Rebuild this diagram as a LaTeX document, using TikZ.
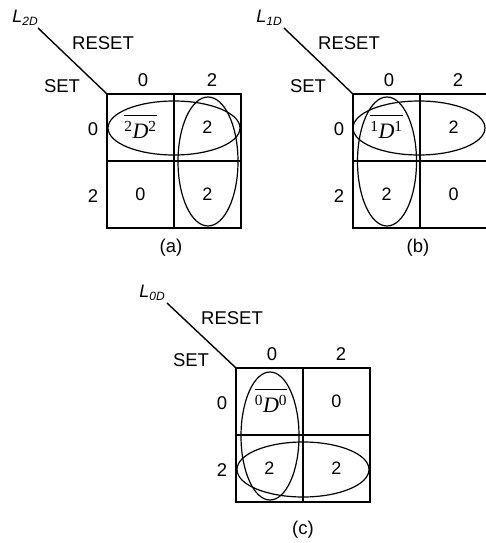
\documentclass[tikz,border=0pt]{standalone}
\usepackage{fontspec}
\setmainfont{Liberation Sans}
\newfontfamily\dserif{Liberation Serif}
\begin{document}
\begin{tikzpicture}[x=1pt,y=-1pt,
  txt/.style={font=\fontsize{18.5}{21}\selectfont, inner sep=0pt},
  cell/.style={draw, line width=1.6pt, minimum size=67pt, inner sep=0pt,
               font=\fontsize{18}{21}\selectfont},
  loop/.style={line width=1.2pt},
  diag/.style={line width=1.4pt},
  dterm/.style={inner sep=0pt, font=\fontsize{22}{24}\dserif},
  ovl/.style={line width=1pt},
  lname/.style={inner sep=0pt, font=\fontsize{18}{20}\selectfont\itshape}]
\useasboundingbox (0,0) rectangle (486,543);

% ---------- map (a): L_2D ----------
\begin{scope}[shift={(107,94)}]
  \coordinate (a-corner) at (0,0);
  \node[cell] (a11) at (33.5,33.5) {};
  \node[cell] (a12) at (100.5,33.5) {2};
  \node[cell] (a21) at (33.5,100.5) {0};
  \node[cell] (a22) at (100.5,100.5) {2};
  \node[dterm] (a11t) at (33.5,36) {\textsuperscript{2}\textit{D}\textsuperscript{2}};
  \draw[ovl] ([yshift=5pt]a11t.north west) -- ([yshift=5pt]a11t.north east);
  \node[lname] (a-name) at (-82,-76) {L\raisebox{-0.35ex}{\fontsize{12}{12}\selectfont 2D}};
  \coordinate (a-start) at (-69,-66);
  \draw[diag] (a-start) -- (a-corner);
  \node[txt] (a-reset) at (-4,-51) {RESET};
  \node[txt] (a-set) at (-45,-8) {SET};
  \node[txt] (a-c1) at (36,-14) {0};
  \node[txt] (a-c2) at (105,-14) {2};
  \node[txt] (a-r1) at (-14,35) {0};
  \node[txt] (a-r2) at (-14,102) {2};
  \draw[loop] (67,34) ellipse [x radius=66, y radius=27];
  \draw[loop] (101,67.5) ellipse [x radius=30, y radius=64.5];
  \node[txt] (a-cap) at (64,154) {(a)};
\end{scope}

% ---------- map (b): L_1D ----------
\begin{scope}[shift={(353,94)}]
  \coordinate (b-corner) at (0,0);
  \node[cell] (b11) at (33.5,33.5) {};
  \node[cell] (b12) at (100.5,33.5) {2};
  \node[cell] (b21) at (33.5,100.5) {2};
  \node[cell] (b22) at (100.5,100.5) {0};
  \node[dterm] (b11t) at (33.5,36) {\textsuperscript{1}\textit{D}\textsuperscript{1}};
  \draw[ovl] ([yshift=5pt]b11t.north west) -- ([yshift=5pt]b11t.north east);
  \node[lname] (b-name) at (-84,-76) {L\raisebox{-0.35ex}{\fontsize{12}{12}\selectfont 1D}};
  \coordinate (b-start) at (-69,-66);
  \draw[diag] (b-start) -- (b-corner);
  \node[txt] (b-reset) at (-4,-51) {RESET};
  \node[txt] (b-set) at (-45,-8) {SET};
  \node[txt] (b-c1) at (36,-14) {0};
  \node[txt] (b-c2) at (105,-14) {2};
  \node[txt] (b-r1) at (-14,35) {0};
  \node[txt] (b-r2) at (-14,102) {2};
  \draw[loop] (66,34) ellipse [x radius=66, y radius=27];
  \draw[loop] (34,67.5) ellipse [x radius=29.5, y radius=64.5];
  \node[txt] (b-cap) at (65,154) {(b)};
\end{scope}

% ---------- map (c): L_0D ----------
\begin{scope}[shift={(236,368)}]
  \coordinate (c-corner) at (0,0);
  \node[cell] (c11) at (33.5,33.5) {};
  \node[cell] (c12) at (100.5,33.5) {0};
  \node[cell] (c21) at (33.5,100.5) {2};
  \node[cell] (c22) at (100.5,100.5) {2};
  \node[dterm] (c11t) at (35,36) {\textsuperscript{0}\textit{D}\textsuperscript{0}};
  \draw[ovl] ([yshift=5pt]c11t.north west) -- ([yshift=5pt]c11t.north east);
  \node[lname] (c-name) at (-84,-75) {L\raisebox{-0.35ex}{\fontsize{12}{12}\selectfont 0D}};
  \coordinate (c-start) at (-69,-65);
  \draw[diag] (c-start) -- (c-corner);
  \node[txt] (c-reset) at (-4,-50) {RESET};
  \node[txt] (c-set) at (-45,-8) {SET};
  \node[txt] (c-c1) at (36,-14) {0};
  \node[txt] (c-c2) at (105,-14) {2};
  \node[txt] (c-r1) at (-14,35) {0};
  \node[txt] (c-r2) at (-14,102) {2};
  \draw[loop] (34,68) ellipse [x radius=29, y radius=64];
  \draw[loop] (67,101.5) ellipse [x radius=66, y radius=27.5];
  \node[txt] (c-cap) at (67,162) {(c)};
\end{scope}
\end{tikzpicture}
\end{document}
